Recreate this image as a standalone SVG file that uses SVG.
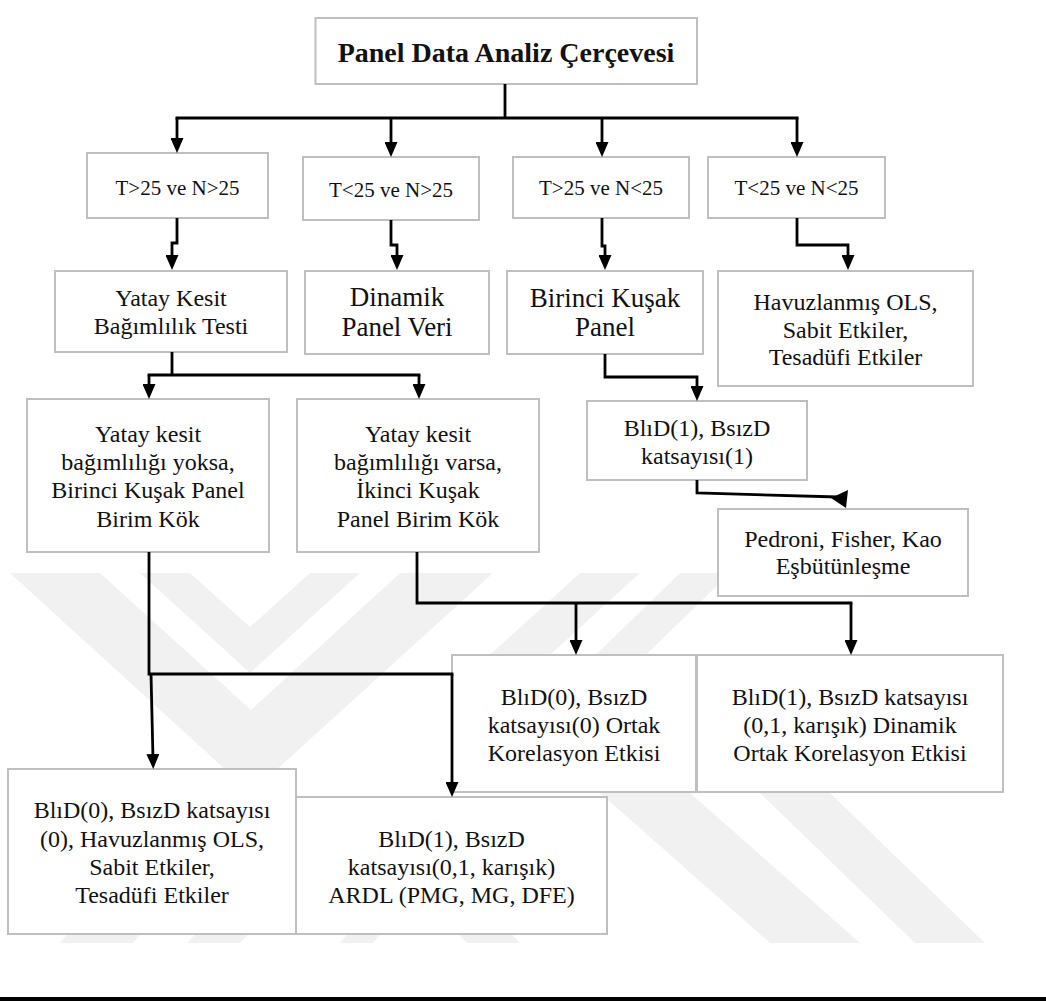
<svg xmlns="http://www.w3.org/2000/svg" width="1046" height="1001" viewBox="0 0 1046 1001">
<style>
.box{fill:#fff;stroke:#bfbfbf;stroke-width:2}
.t{font-family:"Liberation Serif","Times New Roman",serif;fill:#111;text-anchor:middle}
.ttl{font-weight:bold;font-size:28px}
.s21{font-size:21px}
.s24{font-size:24px}
.s27{font-size:27px}
.wm{fill:#f1f1f1}
.c{fill:none;stroke:#000;stroke-width:2.8}
</style>
<defs>
<marker id="ah" viewBox="0 0 15 13" markerUnits="userSpaceOnUse" markerWidth="15" markerHeight="13" refX="5" refY="6.5" orient="auto">
<path d="M0,0 L15,6.5 L0,13 z" fill="#000"/>
</marker>
</defs>
<rect width="1046" height="1001" fill="#fff"/>
<g id="watermark">
<polygon class="wm" points="10,573 100,573 251,710 400,573 493,573 251,793"/>
<polygon class="wm" points="140,573 190,573 250,627 310,573 360,573 250,673"/>
<polygon class="wm" points="580,573 640,573 530,673 470,673"/>
<polygon class="wm" points="680,573 730,573 620,680 570,680"/>
<polygon class="wm" points="600,793 690,793 860,943 770,943"/>
<polygon class="wm" points="760,793 830,793 985,943 915,943"/>
<polygon class="wm" points="60,943 133,943 170,900 97,900"/>
<polygon class="wm" points="187,943 240,943 280,900 227,900"/>
<polygon class="wm" points="340,943 373,943 410,900 377,900"/>
<polygon class="wm" points="467,943 520,943 480,900 427,900"/>
</g>
<rect x="0" y="997" width="1046" height="4" fill="#000"/>
<g id="n-title">
<rect class="box" x="315.5" y="18" width="381.5" height="66"/>
<text class="t ttl" x="506" y="62">Panel Data Analiz Çerçevesi</text>
</g>
<g id="n-t1">
<rect class="box" x="87" y="153" width="181" height="65"/>
<text class="t s21" x="177.5" y="195">T&gt;25 ve N&gt;25</text>
</g>
<g id="n-t2">
<rect class="box" x="303" y="157" width="176" height="63"/>
<text class="t s21" x="391" y="197">T&lt;25 ve N&gt;25</text>
</g>
<g id="n-t3">
<rect class="box" x="513" y="157" width="176" height="61"/>
<text class="t s21" x="601" y="195">T&gt;25 ve N&lt;25</text>
</g>
<g id="n-t4">
<rect class="box" x="708" y="157" width="177" height="61"/>
<text class="t s21" x="796.5" y="195">T&lt;25 ve N&lt;25</text>
</g>
<g id="n-yatay">
<rect class="box" x="55" y="271" width="232" height="81"/>
<text class="t s24" x="171" y="306"><tspan x="171">Yatay Kesit</tspan><tspan x="171" y="334">Bağımlılık Testi</tspan></text>
</g>
<g id="n-dinamik">
<rect class="box" x="305" y="271" width="184" height="83"/>
<text class="t s27" x="397" y="306"><tspan x="397">Dinamik</tspan><tspan x="397" y="336">Panel Veri</tspan></text>
</g>
<g id="n-birinci">
<rect class="box" x="507" y="271" width="196" height="83"/>
<text class="t s27" x="605" y="307"><tspan x="605">Birinci Kuşak</tspan><tspan x="605" y="336">Panel</tspan></text>
</g>
<g id="n-havuz">
<rect class="box" x="718" y="271" width="255" height="115"/>
<text class="t s24" x="845.5" y="310"><tspan x="845.5">Havuzlanmış OLS,</tspan><tspan x="845.5" y="338">Sabit Etkiler,</tspan><tspan x="845.5" y="365">Tesadüfi Etkiler</tspan></text>
</g>
<g id="n-yoksa">
<rect class="box" x="27" y="399" width="242" height="153"/>
<text class="t s24" x="148" y="442"><tspan x="148">Yatay kesit</tspan><tspan x="148" y="470">bağımlılığı yoksa,</tspan><tspan x="148" y="498">Birinci Kuşak Panel</tspan><tspan x="148" y="527">Birim Kök</tspan></text>
</g>
<g id="n-varsa">
<rect class="box" x="297" y="399" width="242" height="153"/>
<text class="t s24" x="418" y="442"><tspan x="418">Yatay kesit</tspan><tspan x="418" y="470">bağımlılığı varsa,</tspan><tspan x="418" y="498">İkinci Kuşak</tspan><tspan x="418" y="527">Panel Birim Kök</tspan></text>
</g>
<g id="n-bld1">
<rect class="box" x="587" y="401" width="220" height="79"/>
<text class="t s24" x="697" y="436"><tspan x="697">BlıD(1), BsızD</tspan><tspan x="697" y="464">katsayısı(1)</tspan></text>
</g>
<g id="n-pedroni">
<rect class="box" x="718" y="509" width="250" height="87"/>
<text class="t s24" x="843" y="547"><tspan x="843">Pedroni, Fisher, Kao</tspan><tspan x="843" y="574">Eşbütünleşme</tspan></text>
</g>
<g id="n-ortak">
<rect class="box" x="452" y="655" width="244" height="137"/>
<text class="t s24" x="574" y="705"><tspan x="574">BlıD(0), BsızD</tspan><tspan x="574" y="733">katsayısı(0) Ortak</tspan><tspan x="574" y="761">Korelasyon Etkisi</tspan></text>
</g>
<g id="n-dinortak">
<rect class="box" x="697" y="655" width="306" height="137"/>
<text class="t s24" x="850" y="705"><tspan x="850">BlıD(1), BsızD katsayısı</tspan><tspan x="850" y="733">(0,1, karışık) Dinamik</tspan><tspan x="850" y="761">Ortak Korelasyon Etkisi</tspan></text>
</g>
<g id="n-havuz2">
<rect class="box" x="8" y="769" width="288" height="165"/>
<text class="t s24" x="152" y="818"><tspan x="152">BlıD(0), BsızD katsayısı</tspan><tspan x="152" y="847">(0), Havuzlanmış OLS,</tspan><tspan x="152" y="875">Sabit Etkiler,</tspan><tspan x="152" y="903">Tesadüfi Etkiler</tspan></text>
</g>
<g id="n-ardl">
<rect class="box" x="296" y="797" width="311" height="137"/>
<text class="t s24" x="451.5" y="847"><tspan x="451.5">BlıD(1), BsızD</tspan><tspan x="451.5" y="875">katsayısı(0,1, karışık)</tspan><tspan x="451.5" y="903">ARDL (PMG, MG, DFE)</tspan></text>
</g>
<g id="connectors">
<path class="c" d="M505,84 V118 M175.5,118 H798.5"/>
<path class="c" d="M177,118 V143" marker-end="url(#ah)"/>
<path class="c" d="M391,118 V147" marker-end="url(#ah)"/>
<path class="c" d="M602,118 V147" marker-end="url(#ah)"/>
<path class="c" d="M797,118 V147" marker-end="url(#ah)"/>
<path class="c" d="M177,218 V243 H172 V260" marker-end="url(#ah)"/>
<path class="c" d="M391,220 V245 H397 V260" marker-end="url(#ah)"/>
<path class="c" d="M602,218 V246 H605 V260" marker-end="url(#ah)"/>
<path class="c" d="M797,218 V245 H848 V260" marker-end="url(#ah)"/>
<path class="c" d="M172,352 V375 M147.6,375 H420.4"/>
<path class="c" d="M149,375 V389" marker-end="url(#ah)"/>
<path class="c" d="M419,375 V389" marker-end="url(#ah)"/>
<path class="c" d="M605,354 V377 H697 V391" marker-end="url(#ah)"/>
<path class="c" d="M697,480 V493 L838,497"/>
<polygon points="831,498 848,490 846,508" fill="#000"/>
<path class="c" d="M417,552 V603 H852.4"/>
<path class="c" d="M576,603 V645" marker-end="url(#ah)"/>
<path class="c" d="M851,603 V645" marker-end="url(#ah)"/>
<path class="c" d="M149,552 V674 H453.4"/>
<path class="c" d="M151,674 L153,759" marker-end="url(#ah)"/>
<path class="c" d="M452,674 V787" marker-end="url(#ah)"/>
</g>
</svg>
